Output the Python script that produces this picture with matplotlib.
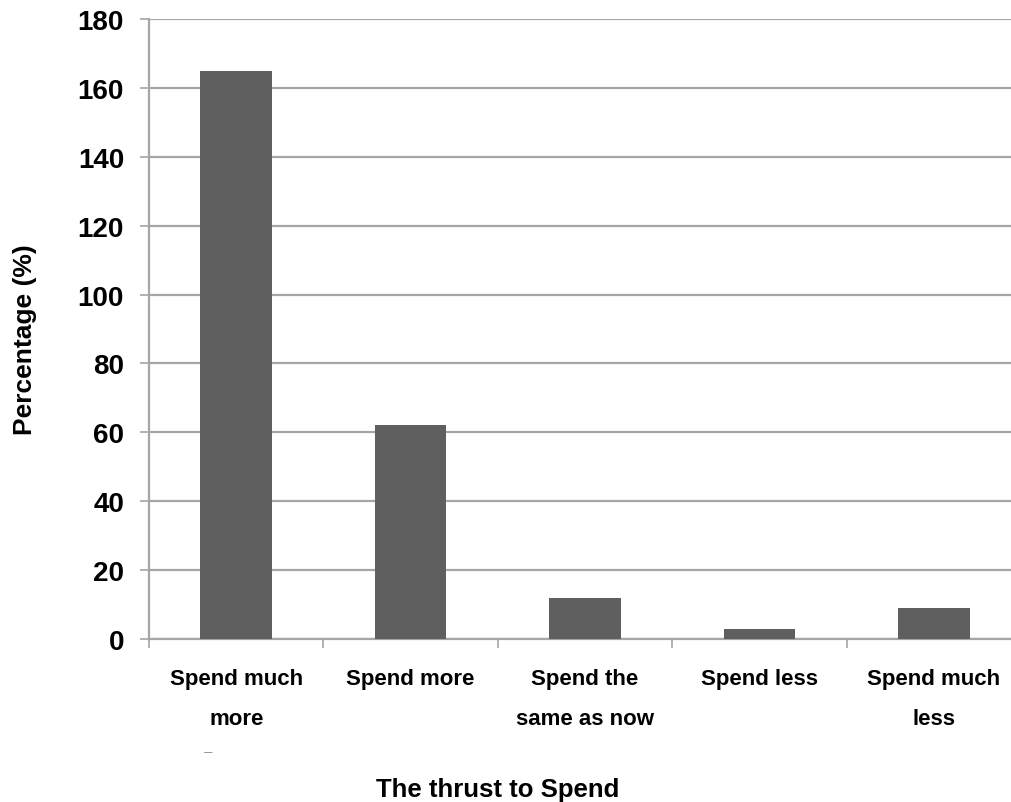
import matplotlib.pyplot as plt
import numpy as np

# ---- data ----
categories = ["Spend much\nmore", "Spend more", "Spend the\nsame as now",
              "Spend less", "Spend much\nless"]
percentages = [165, 62, 12, 3, 9]
y_ticks = [0, 20, 40, 60, 80, 100, 120, 140, 160, 180]

plt.rcParams['font.family'] = ['Liberation Sans', 'DejaVu Sans']

fig = plt.figure(figsize=(10.12, 8.03), dpi=100)
ax = fig.add_axes([149 / 1012, 1 - 640 / 803, 872 / 1012, 620 / 803])

x = np.arange(len(categories))
ax.bar(x, percentages, width=0.41, color='#5f5f5f', zorder=3)

# gridlines and axes
ax.set_ylim(0, 180)
ax.set_xlim(-0.5, len(categories) - 0.5)
ax.set_yticks(y_ticks)
ax.set_yticklabels([str(t) for t in y_ticks], fontsize=20, fontweight='bold')
ax.yaxis.grid(True, color='#a6a6a6', linewidth=1.6, zorder=0)
ax.tick_params(axis='y', length=6.5, width=1.2, color='#a6a6a6', pad=11.5)

# category ticks sit between the bars
ax.set_xticks(np.arange(len(categories) + 1) - 0.5)
ax.set_xticklabels([])
ax.tick_params(axis='x', length=6.5, width=1.2, color='#a6a6a6')
for xi, name in zip(x, categories):
    ax.text(xi, -8.5, name, ha='center', va='top', fontsize=16,
            fontweight='bold', linespacing=2.15, transform=ax.transData)

for side in ['top', 'right']:
    ax.spines[side].set_visible(False)
ax.spines['left'].set_color('#a6a6a6')
ax.spines['left'].set_linewidth(1.6)
ax.spines['bottom'].set_color('#a6a6a6')
ax.spines['bottom'].set_linewidth(1.6)

fig.text(498 / 1012, 1 - 790 / 803, "The thrust to Spend", ha='center',
         va='center', fontsize=18.5, fontweight='bold')
fig.text(25 / 1012, 1 - 340 / 803, "Percentage (%)", ha='center',
         va='center', rotation=90, fontsize=19, fontweight='bold')
fig.text(208 / 1012, 1 - 752 / 803, "–", ha='center', va='center',
         fontsize=11, color='#999999')

fig.savefig("out.png", dpi=100)
